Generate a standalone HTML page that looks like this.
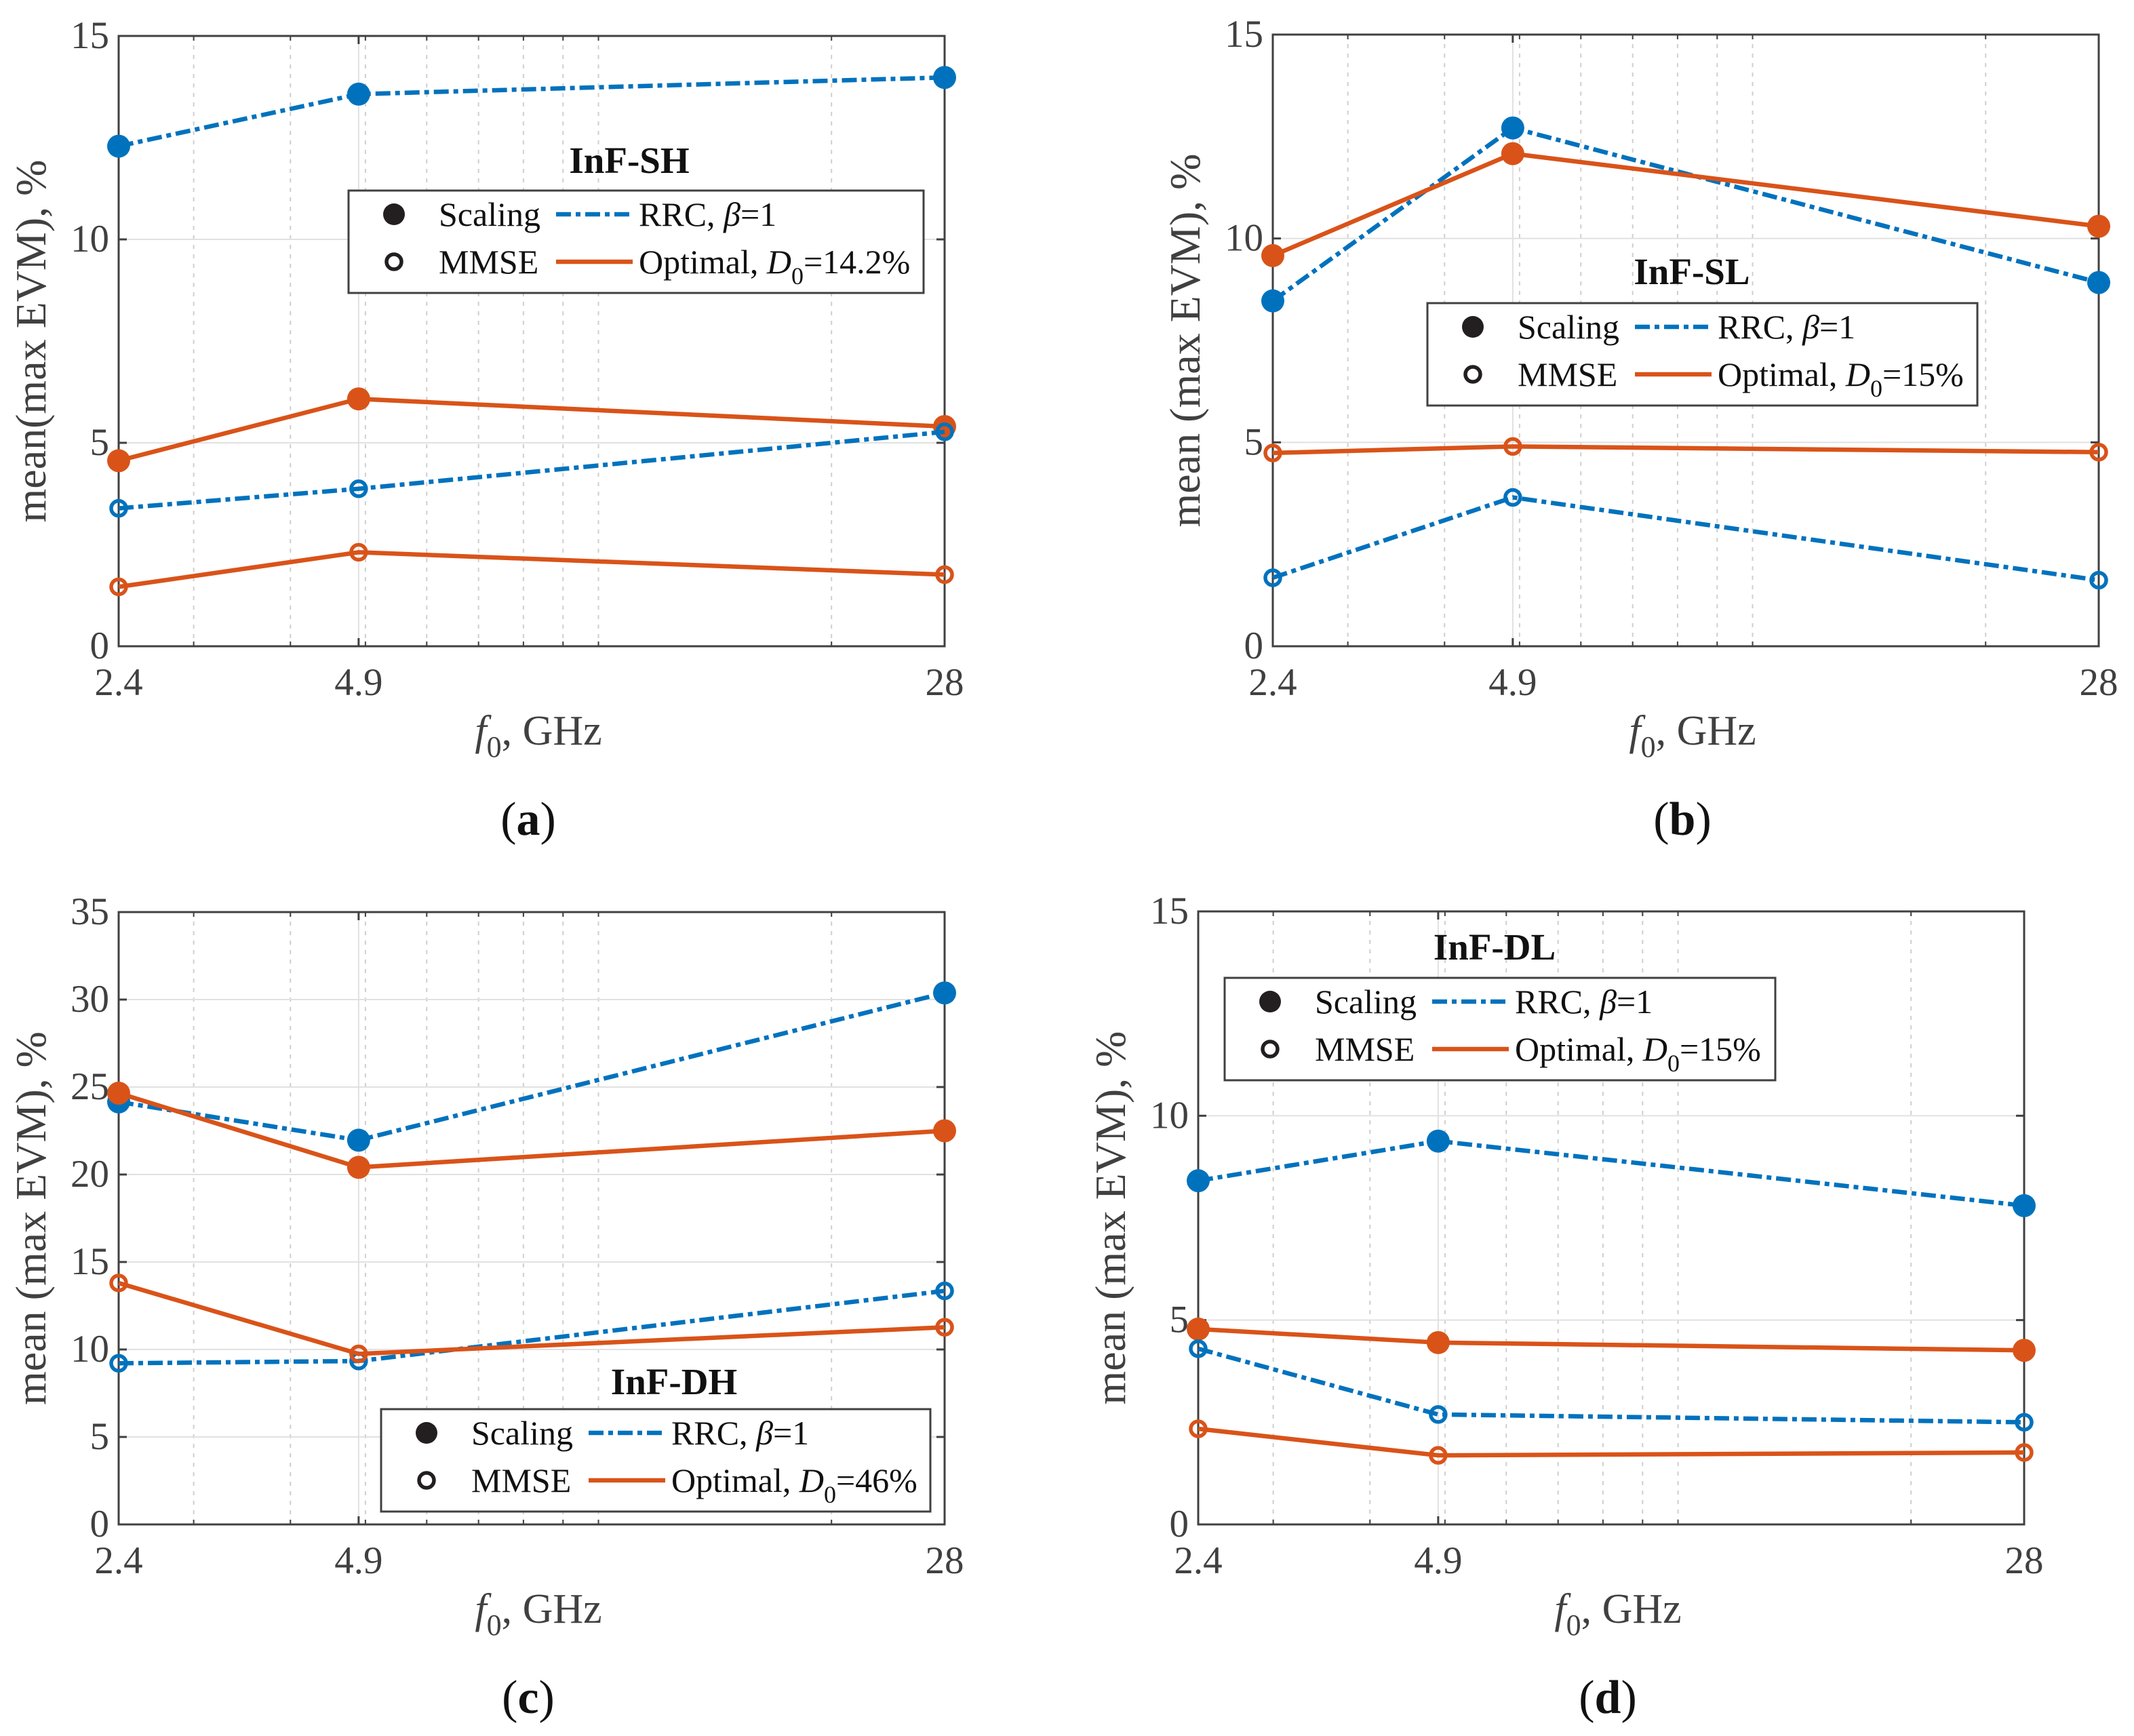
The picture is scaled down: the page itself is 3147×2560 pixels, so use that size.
<!DOCTYPE html>
<html><head><meta charset="utf-8"><style>
html,body{margin:0;padding:0;background:#fff;}
svg{display:block;}
</style></head><body>
<svg id="fig" width="3147" height="2560" viewBox="0 0 3147 2560" xmlns="http://www.w3.org/2000/svg" font-family="Liberation Serif, serif"></svg>
<script>
// ---- data ----
const freqs = [2.4, 4.9, 28];
const xTickLabels = ['2.4', '4.9', '28'];
const minorFreqs = [3, 4, 5, 6, 7, 8, 9, 10, 20];
const yTicksA = [0, 5, 10, 15];
const yTicksC = [0, 5, 10, 15, 20, 25, 30, 35];

const aRrcScaling = [12.29, 13.57, 13.98];
const aOptScaling = [4.56, 6.08, 5.40];
const aRrcMmse = [3.39, 3.87, 5.27];
const aOptMmse = [1.46, 2.31, 1.76];

const bRrcScaling = [8.47, 12.71, 8.92];
const bOptScaling = [9.58, 12.08, 10.30];
const bRrcMmse = [1.68, 3.65, 1.62];
const bOptMmse = [4.74, 4.90, 4.76];

const cRrcScaling = [24.15, 21.96, 30.38];
const cOptScaling = [24.65, 20.41, 22.50];
const cRrcMmse = [9.21, 9.34, 13.35];
const cOptMmse = [13.80, 9.75, 11.27];

const dRrcScaling = [8.41, 9.38, 7.80];
const dOptScaling = [4.78, 4.45, 4.26];
const dRrcMmse = [4.30, 2.69, 2.50];
const dOptMmse = [2.34, 1.69, 1.76];

const BLUE = '#0072BD', ORANGE = '#D95319', AX = '#404040';
const NS = 'http://www.w3.org/2000/svg';
const svg = document.getElementById('fig');

function mk(tag, attrs, parent, text) {
  const e = document.createElementNS(NS, tag);
  for (const k in attrs) e.setAttribute(k, attrs[k]);
  if (text !== undefined) e.textContent = text;
  (parent || svg).appendChild(e);
  return e;
}

const panels = [
  {id:'a', L:175, R:1393, T:53, B:953, ymax:15, yt:yTicksA, ylab:'mean(max EVM), %', title:'InF-SH', tx:928, ty:255,
   leg:{x:514, y:281, w:848, h:151}, d0:'=14.2%', cap:'(a)',
   series:[aRrcScaling, aOptScaling, aRrcMmse, aOptMmse]},
  {id:'b', L:1877, R:3095, T:51, B:953, ymax:15, yt:yTicksA, ylab:'mean (max EVM), %', title:'InF-SL', tx:2495, ty:419,
   leg:{x:2105, y:447, w:811, h:151}, d0:'=15%', cap:'(b)',
   series:[bRrcScaling, bOptScaling, bRrcMmse, bOptMmse]},
  {id:'c', L:175, R:1393, T:1345, B:2248, ymax:35, yt:yTicksC, ylab:'mean (max EVM), %', title:'InF-DH', tx:994, ty:2056,
   leg:{x:562, y:2078, w:810, h:151}, d0:'=46%', cap:'(c)',
   series:[cRrcScaling, cOptScaling, cRrcMmse, cOptMmse]},
  {id:'d', L:1767, R:2985, T:1344, B:2248, ymax:15, yt:yTicksA, ylab:'mean (max EVM), %', title:'InF-DL', tx:2204, ty:1415,
   leg:{x:1806, y:1442, w:812, h:151}, d0:'=15%', cap:'(d)',
   series:[dRrcScaling, dOptScaling, dRrcMmse, dOptMmse]}
];

const DASH = '22 7 7 7';

panels.forEach(p => {
  const g = mk('g', {});
  
  
  const lx0 = Math.log(freqs[0]), lx1 = Math.log(freqs[freqs.length-1]);
  const xs = f => p.L + (Math.log(f) - lx0) / (lx1 - lx0) * (p.R - p.L);
  const ys = v => p.B - v / p.ymax * (p.B - p.T);

  const grid = mk('g', {}, g);
  
  
  minorFreqs.forEach(f => {
    const x = xs(f);
    mk('line', {x1:x, x2:x, y1:p.T, y2:p.B, stroke:'#cfcfcf', 'stroke-width':2, 'stroke-dasharray':'6 8'}, grid);
  });
  freqs.forEach(f => {
    const x = xs(f);
    mk('line', {x1:x, x2:x, y1:p.T, y2:p.B, stroke:'#e1e1e1', 'stroke-width':2}, grid);
  });
  p.yt.forEach(v => {
    const y = ys(v);
    mk('line', {x1:p.L, x2:p.R, y1:y, y2:y, stroke:'#e1e1e1', 'stroke-width':2}, grid);
  });

  const ax = mk('g', {}, g);
  
  
  mk('rect', {x:p.L, y:p.T, width:p.R-p.L, height:p.B-p.T, fill:'none', stroke:AX, 'stroke-width':3}, ax);
  p.yt.forEach(v => {
    const y = ys(v);
    mk('line', {x1:p.L, x2:p.L+12, y1:y, y2:y, stroke:AX, 'stroke-width':3}, ax);
    mk('line', {x1:p.R, x2:p.R-12, y1:y, y2:y, stroke:AX, 'stroke-width':3}, ax);
    const t = mk('text', {x:p.L-14, y:y+18, 'text-anchor':'end', 'font-size':57, fill:AX}, ax, String(v));
    
    
  });
  minorFreqs.forEach(f => {
    const x = xs(f);
    mk('line', {x1:x, x2:x, y1:p.B, y2:p.B-7, stroke:AX, 'stroke-width':2}, ax);
    mk('line', {x1:x, x2:x, y1:p.T, y2:p.T+7, stroke:AX, 'stroke-width':2}, ax);
  });
  freqs.forEach((f, i) => {
    const x = xs(f);
    mk('line', {x1:x, x2:x, y1:p.B, y2:p.B-12, stroke:AX, 'stroke-width':3}, ax);
    mk('line', {x1:x, x2:x, y1:p.T, y2:p.T+12, stroke:AX, 'stroke-width':3}, ax);
    const t = mk('text', {x:x, y:p.B+72, 'text-anchor':'middle', 'font-size':57, fill:AX}, ax, xTickLabels[i]);
    
    
  });

  const xl = mk('text', {x:(p.L+p.R)/2 + 10, y:p.B+145, 'text-anchor':'middle', 'font-size':62, fill:AX}, g);
  
  
  mk('tspan', {'font-style':'italic'}, xl, 'f');
  mk('tspan', {'font-size':44, dy:18}, xl, '0');
  mk('tspan', {dy:-18}, xl, ', GHz');
  const ycx = p.L - 108, ycy = (p.T + p.B) / 2;
  const yl = mk('text', {x:ycx, y:ycy, 'text-anchor':'middle', 'font-size':64, fill:AX,
    transform:`rotate(-90 ${ycx} ${ycy})`}, g, p.ylab);
  
  

  const styles = [
    {c:BLUE, dash:DASH, fill:true, name:'rrc-scaling'},
    {c:ORANGE, dash:null, fill:true, name:'optimal-scaling'},
    {c:BLUE, dash:DASH, fill:false, name:'rrc-mmse'},
    {c:ORANGE, dash:null, fill:false, name:'optimal-mmse'}
  ];
  p.series.forEach((vals, si) => {
    const st = styles[si];
    const sg = mk('g', {}, g);
    
    
    const pts = vals.map((v, i) => xs(freqs[i]) + ',' + ys(v)).join(' ');
    const pl = mk('polyline', {points:pts, fill:'none', stroke:st.c, 'stroke-width':6.5}, sg);
    if (st.dash) pl.setAttribute('stroke-dasharray', st.dash);
    
    
    vals.forEach((v, i) => {
      const c = st.fill
        ? mk('circle', {cx:xs(freqs[i]), cy:ys(v), r:17, fill:st.c}, sg)
        : mk('circle', {cx:xs(freqs[i]), cy:ys(v), r:11, fill:'none', stroke:st.c, 'stroke-width':5.5}, sg);
      
      
    });
  });

  const tt = mk('text', {x:p.tx, y:p.ty, 'text-anchor':'middle', 'font-size':55, 'font-weight':'bold', fill:'#111'}, g, p.title);
  
  

  const L = p.leg;
  const lg = mk('g', {}, g);
  
  
  mk('rect', {x:L.x, y:L.y, width:L.w, height:L.h, fill:'#fff', stroke:AX, 'stroke-width':3}, lg);
  const r1 = L.y + 35, r2 = L.y + 105;
  mk('circle', {cx:L.x+67, cy:r1, r:16, fill:'#231f20'}, lg);
  mk('circle', {cx:L.x+67, cy:r2, r:11, fill:'none', stroke:'#231f20', 'stroke-width':5.5}, lg);
  mk('text', {x:L.x+133, y:r1+17, 'font-size':50, fill:'#111'}, lg, 'Scaling');
  mk('text', {x:L.x+133, y:r2+17, 'font-size':50, fill:'#111'}, lg, 'MMSE');
  mk('line', {x1:L.x+306, x2:L.x+419, y1:r1, y2:r1, stroke:BLUE, 'stroke-width':6.5, 'stroke-dasharray':DASH}, lg);
  mk('line', {x1:L.x+306, x2:L.x+419, y1:r2, y2:r2, stroke:ORANGE, 'stroke-width':6.5}, lg);
  const t1 = mk('text', {x:L.x+428, y:r1+17, 'font-size':50, fill:'#111'}, lg);
  mk('tspan', {}, t1, 'RRC, ');
  mk('tspan', {'font-style':'italic'}, t1, 'β');
  mk('tspan', {}, t1, '=1');
  const t2 = mk('text', {x:L.x+428, y:r2+17, 'font-size':50, fill:'#111'}, lg);
  mk('tspan', {}, t2, 'Optimal, ');
  mk('tspan', {'font-style':'italic'}, t2, 'D');
  mk('tspan', {'font-size':36, dy:16}, t2, '0');
  mk('tspan', {dy:-16}, t2, p.d0);

  const cp = mk('text', {x:(p.L+p.R)/2 - 5, y:p.B + 278, 'text-anchor':'middle', 'font-size':70, fill:'#111'}, g);
  
  
  mk('tspan', {}, cp, '(');
  mk('tspan', {'font-weight':'bold'}, cp, p.cap.slice(1, 2));
  mk('tspan', {}, cp, ')');
});
</script>
</body></html>
